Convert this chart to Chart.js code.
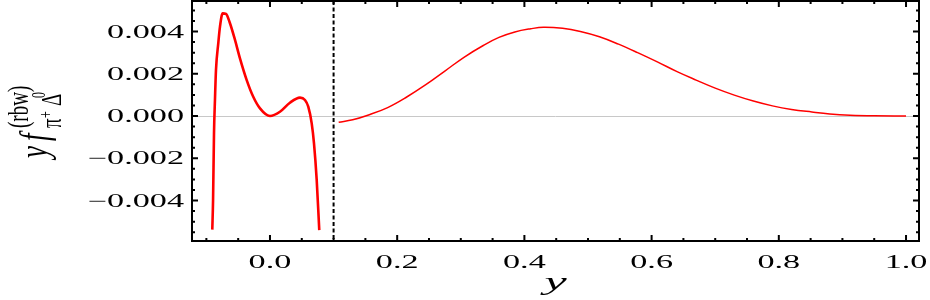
<!DOCTYPE html>
<html>
<head>
<meta charset="utf-8">
<script src="https://cdn.jsdelivr.net/npm/chart.js"></script>
<style>
  body { margin: 0; background: #fff; }
  #wrap { width: 930px; height: 300px; position: relative; }
</style>
</head>
<body>
<div id="wrap"><canvas id="chart"></canvas></div>
<script>
// Data
const leftX = [-0.0907, -0.0895, -0.088, -0.0865, -0.0849, -0.0813, -0.0786, -0.0744, -0.0692, -0.0629, -0.055, -0.0472, -0.0366, -0.0263, -0.0157, 0.0, 0.0157, 0.0314, 0.0472, 0.055, 0.0602, 0.0656, 0.0692, 0.0734, 0.0775];
const leftY = [-0.00538, -0.004, -0.0008, 0.00076, 0.00218, 0.00344, 0.00423, 0.00486, 0.00483, 0.00439, 0.0036, 0.00273, 0.0017, 0.00091, 0.00036, 0.0, 0.0002, 0.00063, 0.00087, 0.00076, 0.00044, -0.00035, -0.0013, -0.003, -0.0054];

const rightX = [0.108, 0.13, 0.155, 0.185, 0.215, 0.245, 0.276, 0.305, 0.336, 0.36, 0.385, 0.41, 0.43, 0.46, 0.488, 0.518, 0.548, 0.578, 0.609, 0.64, 0.67, 0.70, 0.73, 0.76, 0.79, 0.82, 0.852, 0.88, 0.912, 0.95, 1.0];
const rightY = [-0.0003, -0.00018, 0.00005, 0.0004, 0.0009, 0.00148, 0.00215, 0.00278, 0.00335, 0.00372, 0.00398, 0.00413, 0.0042, 0.00415, 0.0040, 0.00375, 0.0034, 0.003, 0.00256, 0.0021, 0.0017, 0.00132, 0.00099, 0.00071, 0.00048, 0.00031, 0.00019, 0.0001, 0.00004, 0.00001, 0.0];

const dividerX = 0.1;

const xMajorTicks = [0.0, 0.2, 0.4, 0.6, 0.8, 1.0];
const xTickLabels = ['0.0', '0.2', '0.4', '0.6', '0.8', '1.0'];
const yMajorTicks = [0.004, 0.002, 0.0, -0.002, -0.004];
const yTickLabels = ['0.004', '0.002', '0.000', '\u22120.002', '\u22120.004'];

// minor ticks every 0.05 on x and every 0.0005 on y
const xMinorTicks = [];
for (let i = -2; i <= 20; i++) xMinorTicks.push(i * 0.05);
const yMinorTicks = [];
for (let i = -11; i <= 10; i++) yMinorTicks.push(i * 0.0005);

const SERIF = '"Liberation Serif", "DejaVu Serif", serif';

function toPoints(xs, ys) {
    return xs.map((x, i) => ({ x: x, y: ys[i] }));
}

// draw text stretched horizontally like the original export
function wideText(ctx, text, x, y, sx, align) {
    ctx.save();
    ctx.translate(x, y);
    ctx.scale(sx, 1);
    ctx.textAlign = align;
    ctx.textBaseline = 'alphabetic';
    ctx.fillText(text, 0, 0);
    ctx.restore();
}

const framePlugin = {
    id: 'frame',
    beforeDatasetsDraw(chart) {
        const { ctx, chartArea: a, scales } = chart;
        const y0 = scales.y.getPixelForValue(0);
        ctx.save();
        // zero line
        ctx.strokeStyle = '#c8c8c8';
        ctx.lineWidth = 1;
        ctx.beginPath();
        ctx.moveTo(a.left, Math.round(y0) + 0.5);
        ctx.lineTo(a.right, Math.round(y0) + 0.5);
        ctx.stroke();
        // dashed divider
        const xd = scales.x.getPixelForValue(dividerX);
        ctx.strokeStyle = '#000';
        ctx.lineWidth = 2;
        ctx.setLineDash([4, 2.5]);
        ctx.beginPath();
        ctx.moveTo(xd, a.top);
        ctx.lineTo(xd, a.bottom);
        ctx.stroke();
        ctx.restore();
    },
    afterDraw(chart) {
        const { ctx, chartArea: a, scales } = chart;
        const xs = scales.x, ys = scales.y;
        ctx.save();
        ctx.strokeStyle = '#000';
        ctx.fillStyle = '#000';
        ctx.lineWidth = 2;
        ctx.strokeRect(a.left, a.top, a.right - a.left, a.bottom - a.top);

        // ticks, pointing inward on all four sides
        ctx.beginPath();
        xMinorTicks.forEach(v => {
            const major = xMajorTicks.some(m => Math.abs(m - v) < 1e-9);
            const len = major ? 6 : 3;
            const px = xs.getPixelForValue(v);
            if (px < a.left + 2 || px > a.right - 2) return;
            ctx.moveTo(px, a.bottom); ctx.lineTo(px, a.bottom - len);
            ctx.moveTo(px, a.top); ctx.lineTo(px, a.top + len);
        });
        yMinorTicks.forEach(v => {
            const major = yMajorTicks.some(m => Math.abs(m - v) < 1e-9);
            const len = major ? 6 : 3;
            const py = ys.getPixelForValue(v);
            if (py < a.top + 2 || py > a.bottom - 2) return;
            ctx.moveTo(a.left, py); ctx.lineTo(a.left + len, py);
            ctx.moveTo(a.right, py); ctx.lineTo(a.right - len, py);
        });
        ctx.stroke();

        // tick labels
        ctx.font = '18px ' + SERIF;
        yMajorTicks.forEach((v, i) => {
            wideText(ctx, yTickLabels[i], a.left - 8, ys.getPixelForValue(v) + 6, 1.9, 'right');
        });
        xMajorTicks.forEach((v, i) => {
            wideText(ctx, xTickLabels[i], xs.getPixelForValue(v), a.bottom + 27, 1.9, 'center');
        });

        // x axis title
        ctx.font = 'italic 25px ' + SERIF;
        wideText(ctx, 'y', (a.left + a.right) / 2, 290, 2.0, 'center');

        // y axis title: y f^(rbw)_{pi+ Delta0}
        ctx.translate(47, 158);
        ctx.scale(1.5, 1);
        ctx.rotate(-Math.PI / 2);
        ctx.textAlign = 'left';
        ctx.textBaseline = 'alphabetic';
        ctx.font = 'italic 27px ' + SERIF;
        ctx.fillText('y', 0, 0);
        ctx.fillText('f', 17, 0);
        ctx.font = '19px ' + SERIF;
        ctx.fillText('(rbw)', 30, -13);
        ctx.fillText('\u03c0', 30, 9);
        ctx.fillText('\u0394', 52, 9);
        ctx.font = '12px ' + SERIF;
        ctx.fillText('+', 40, 3);
        ctx.fillText('0', 60, -1.5);
        ctx.restore();
    }
};

const ctx = document.getElementById('chart').getContext('2d');
new Chart(ctx, {
    type: 'line',
    data: {
        datasets: [{
            data: toPoints(leftX, leftY),
            borderColor: '#ff0000',
            borderWidth: 2.6,
            pointRadius: 0,
            cubicInterpolationMode: 'monotone',
            fill: false
        }, {
            data: toPoints(rightX, rightY),
            borderColor: '#ff0000',
            borderWidth: 1.5,
            pointRadius: 0,
            tension: 0.4,
            fill: false
        }]
    },
    options: {
        responsive: true,
        maintainAspectRatio: false,
        animation: false,
        layout: { padding: { left: 192, right: 11, top: 1, bottom: 59 } },
        plugins: { legend: { display: false }, tooltip: { enabled: false } },
        scales: {
            x: { type: 'linear', min: -0.1226, max: 1.0204, display: false },
            y: { type: 'linear', min: -0.005917, max: 0.005444, display: false }
        }
    },
    plugins: [framePlugin]
});
</script>
</body>
</html>
